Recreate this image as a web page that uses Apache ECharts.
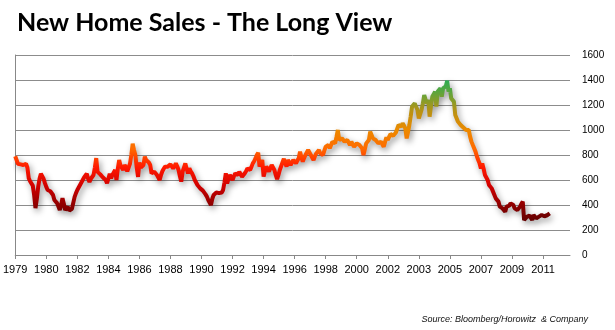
<!DOCTYPE html>
<html>
<head>
<meta charset="utf-8">
<script src="https://cdn.jsdelivr.net/npm/echarts@6/dist/echarts.min.js"></script>
<style>
html,body{margin:0;padding:0;background:#fff;}
#chart{width:615px;height:330px;}
</style>
</head>
<body>
<div id="chart"></div>
<script>
// Monthly new home sales (thousands, SAAR), Jan 1979 onward
const sales = [
 790,760,730,740,725,735,720,715,730,700,615,590,            // 1979
 575,555,480,375,450,545,610,650,640,610,575,545,            // 1980
 520,515,510,505,480,440,430,415,400,360,400,455,            // 1981
 410,360,375,385,355,365,370,385,465,495,520,540,            // 1982
 560,575,600,620,635,650,610,585,610,625,640,700,            // 1983
 775,665,655,645,640,620,630,600,575,610,650,615,            // 1984
 640,660,680,600,690,760,715,700,680,720,700,670,            // 1985
 700,730,800,890,840,800,700,625,740,700,690,720,            // 1986
 787,760,746,740,720,653,660,667,655,640,620,600,            // 1987
 640,670,690,707,700,707,715,725,733,693,710,733,            // 1988
 710,680,630,587,667,700,733,690,653,693,670,653,            // 1989
 630,600,580,560,545,533,525,515,507,485,467,440,            // 1990
 420,400,450,480,493,500,507,495,480,500,520,580,            // 1991
 653,573,610,640,620,600,630,653,645,640,667,645,            // 1992
 627,640,653,670,693,685,680,705,733,750,773,800,            // 1993
 819,707,735,760,627,670,707,690,667,695,720,700,            // 1994
 680,640,606,640,680,710,740,770,735,707,760,740,            // 1995
 720,740,760,745,733,755,773,827,785,747,775,800,            // 1996
 820,840,820,800,780,760,790,813,825,840,813,805,            // 1997
 800,835,867,875,880,853,880,907,900,893,945,1000,           // 1998
 920,925,933,920,907,915,920,900,880,907,885,867,            // 1999
 880,893,885,880,865,853,800,845,893,905,920,987,            // 2000
 960,933,925,920,905,893,900,907,885,867,905,941,            // 2001
 920,945,968,960,953,965,980,1010,1040,1035,1027,1053,       // 2002
 1035,1013,933,985,1040,1110,1187,1200,1213,1185,1160,1093,  // 2003
 1107,1160,1213,1280,1245,1213,1240,1107,1190,1267,1285,1307,// 2004
 1187,1307,1320,1333,1267,1333,1320,1350,1395,1307,1333,1253,// 2005
 1240,1227,1120,1107,1067,1055,1040,1027,1020,1013,1000,987, // 2006
 1000,947,907,880,867,827,790,760,733,693,733,690,           // 2007
 640,627,600,560,545,533,520,480,453,440,427,387,            // 2008
 380,373,360,347,387,373,395,413,427,400,373,365,            // 2009
 360,375,387,410,427,280,293,305,320,315,307,280,            // 2010
 320,305,293,300,307,315,320,307,310,313,318,320,            // 2011
 333                                                         // 2012
];
const startYear = 1979;
const monthCount = 412;          // categories on the axis (monthly)
const months = [];
for (let i = 0; i < monthCount; i++) {
  const y = startYear + Math.floor(i / 12);
  const m = (i % 12) + 1;
  months.push(y + '-' + (m < 10 ? '0' + m : m));
}
const tickEvery = 23;            // months between labelled ticks
const yMin = 0, yMax = 1600, yStep = 200;
const titleText = 'New Home Sales - The Long View';
const sourceText = 'Source: Bloomberg/Horowitz  & Company';

const chart = echarts.init(document.getElementById('chart'), null, {renderer: 'canvas'});
chart.setOption({
  animation: false,
  backgroundColor: '#fff',
  title: {
    text: titleText,
    left: 12, top: 5,
    textStyle: {fontFamily: 'Lato', fontWeight: 'bold', fontSize: 25, color: '#000'}
  },
  graphic: [{
    type: 'text', right: 27, top: 315,
    style: {text: sourceText, font: 'italic 9px "Liberation Sans"', fill: '#111'}
  }],
  grid: {left: 15, right: 45, top: 55, bottom: 75},
  visualMap: {
    show: false, type: 'continuous', min: 250, max: 1450, dimension: 1,
    inRange: {color: ['#5c0000','#8e0000','#d00000','#ff1800','#ff6a00','#ec8a00','#b89214','#5ea53c','#10b060']}
  },
  xAxis: {
    type: 'category', data: months, boundaryGap: false,
    axisLine: {lineStyle: {color: '#888', width: 1}},
    axisTick: {interval: tickEvery - 1, length: 4, lineStyle: {color: '#888'}},
    axisLabel: {
      interval: tickEvery - 1, margin: 9,
      fontFamily: 'Liberation Sans', fontSize: 11, color: '#000',
      formatter: v => v.slice(0, 4)
    },
    splitLine: {show: false}
  },
  yAxis: [{
    type: 'value', position: 'right', min: yMin, max: yMax, interval: yStep,
    axisLine: {show: false}, axisTick: {show: false},
    axisLabel: {margin: 12, fontFamily: 'Liberation Sans', fontSize: 10, color: '#000', align: 'left',
      formatter: v => String(v)},
    splitLine: {lineStyle: {color: '#8c8c8c', width: 1}}
  }, {
    type: 'value', position: 'left', min: yMin, max: yMax, interval: yStep,
    axisLine: {show: true, lineStyle: {color: '#888'}}, axisTick: {show: false},
    axisLabel: {show: false}, splitLine: {show: false}
  }],
  series: [{
    type: 'line', data: sales, showSymbol: false, smooth: false,
    lineStyle: {width: 4, shadowColor: 'rgba(0,0,0,0.4)', shadowBlur: 6, shadowOffsetX: 2, shadowOffsetY: 3}
  }]
});
</script>
</body>
</html>
